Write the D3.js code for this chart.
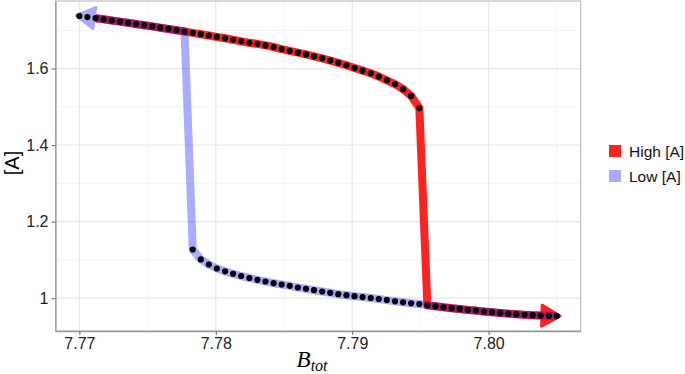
<!DOCTYPE html>
<html>
<head>
<meta charset="utf-8">
<script src="https://cdn.jsdelivr.net/npm/d3@7"></script>
<style>
	body { margin: 0; background: #fff; }
	text { font-family: "Liberation Sans", Arial, sans-serif; }
</style>
</head>
<body>
<svg id="svg"></svg>
<script>
var width = 685, height = 374;
var margin = {top: 1, bottom: 43, right: 104.3, left: 55.5};

// B_tot sweep values
var bTot = [7.77000, 7.77059, 7.77119, 7.77178, 7.77237, 7.77297, 7.77356, 7.77415, 7.77475, 7.77534,
	7.77593, 7.77653, 7.77712, 7.77771, 7.77831, 7.77890, 7.77949, 7.78008, 7.78068, 7.78127,
	7.78186, 7.78246, 7.78305, 7.78364, 7.78424, 7.78483, 7.78542, 7.78602, 7.78661, 7.78720,
	7.78780, 7.78839, 7.78898, 7.78958, 7.79017, 7.79076, 7.79136, 7.79195, 7.79254, 7.79314,
	7.79373, 7.79432, 7.79492, 7.79551, 7.79610, 7.79669, 7.79729, 7.79788, 7.79847, 7.79907,
	7.79966, 7.80025, 7.80085, 7.80144, 7.80203, 7.80263, 7.80322, 7.80381, 7.80441, 7.80500];

// upper steady state, bTot[0] .. bTot[42]
var upperA = [1.7373, 1.7344, 1.7315, 1.7286, 1.7255, 1.7226, 1.7195, 1.7163, 1.7132, 1.7101,
	1.7067, 1.7035, 1.7001, 1.6967, 1.6933, 1.6897, 1.6863, 1.6826, 1.6790, 1.6751,
	1.6711, 1.6672, 1.6646, 1.6604, 1.6562, 1.6510, 1.6463, 1.6416, 1.6369, 1.6319,
	1.6267, 1.6209, 1.6149, 1.6086, 1.6013, 1.5945, 1.5877, 1.5791, 1.5694, 1.5595,
	1.5461, 1.5284, 1.4967];

// lower steady state, bTot[14] .. bTot[59]
var lowerStart = 14;
var lowerA = [1.1273, 1.1012, 1.0881, 1.0776, 1.0701, 1.0638, 1.0580, 1.0528, 1.0481, 1.0437,
	1.0392, 1.0358, 1.0324, 1.0280, 1.0246, 1.0209, 1.0175, 1.0141, 1.0105, 1.0078,
	1.0052, 1.0029, 1.0005, 0.9979, 0.9950, 0.9919, 0.9893, 0.9867, 0.9848, 0.9814,
	0.9788, 0.9762, 0.9739, 0.9720, 0.9694, 0.9676, 0.9652, 0.9634, 0.9616, 0.9597,
	0.9582, 0.9566, 0.9556, 0.9548, 0.9540, 0.9535];

var xTicks = [7.77, 7.78, 7.79, 7.80];
var xTickLabels = ["7.77", "7.78", "7.79", "7.80"];
var yTicks = [1.0, 1.2, 1.4, 1.6];
var yTickLabels = ["1", "1.2", "1.4", "1.6"];
var seriesNames = ["High [A]", "Low [A]"];
var seriesColors = ["#ff2222", "rgba(0, 0, 255, 0.33)"];
var legendColors = ["#ff2222", "#aaaaff"];

var svg = d3.select("#svg")
	.attr("width", width)
	.attr("height", height);

var upper = upperA.map(function(a, i) { return {b: bTot[i], a: a}; });
var lower = lowerA.map(function(a, i) { return {b: bTot[i + lowerStart], a: a}; });

// sweep up from the high branch, then fall to the low one
var highPath = upper.concat(lower.filter(function(d) { return d.b > upper[upper.length - 1].b; }));
// sweep down from the low branch, then jump to the high one
var lowPath = lower.slice().reverse().concat(upper.filter(function(d) { return d.b < lower[0].b; }).reverse());
var allPoints = upper.concat(lower);

var xExt = d3.extent(bTot);
var yExt = d3.extent(allPoints, function(d) { return d.a; });
var xPad = (xExt[1] - xExt[0]) * 0.05, yPad = (yExt[1] - yExt[0]) * 0.05;

var x = d3.scaleLinear()
	.domain([xExt[0] - xPad, xExt[1] + xPad])
	.range([margin.left, width - margin.right]);

var y = d3.scaleLinear()
	.domain([yExt[0] - yPad, yExt[1] + yPad])
	.range([height - margin.bottom, margin.top]);

var x0 = x.range()[0], x1 = x.range()[1], y0 = y.range()[0], y1 = y.range()[1];

// grid
var xMinor = [7.775, 7.785, 7.795, 7.805];
var yMinor = [1.1, 1.3, 1.5, 1.7];

var grid = svg.append("g");
grid.selectAll(".minx").data(xMinor).enter().append("line")
	.attr("x1", function(d) { return x(d); }).attr("x2", function(d) { return x(d); })
	.attr("y1", y0).attr("y2", y1)
	.attr("stroke", "#f2f2f2").attr("stroke-width", 0.8);
grid.selectAll(".miny").data(yMinor).enter().append("line")
	.attr("y1", function(d) { return y(d); }).attr("y2", function(d) { return y(d); })
	.attr("x1", x0).attr("x2", x1)
	.attr("stroke", "#f2f2f2").attr("stroke-width", 0.8);
grid.selectAll(".majx").data(xTicks).enter().append("line")
	.attr("x1", function(d) { return x(d); }).attr("x2", function(d) { return x(d); })
	.attr("y1", y0).attr("y2", y1)
	.attr("stroke", "#e8e8e8").attr("stroke-width", 1.2);
grid.selectAll(".majy").data(yTicks).enter().append("line")
	.attr("y1", function(d) { return y(d); }).attr("y2", function(d) { return y(d); })
	.attr("x1", x0).attr("x2", x1)
	.attr("stroke", "#e8e8e8").attr("stroke-width", 1.2);

svg.append("rect")
	.attr("x", x0).attr("y", y1)
	.attr("width", x1 - x0).attr("height", y0 - y1)
	.attr("fill", "none")
	.attr("stroke", "#b3b3b3");

// paths
var line = d3.line()
	.x(function(d) { return x(d.b); })
	.y(function(d) { return y(d.a); });

function arrowHead(path) {
	var p = path[path.length - 1], q = path[path.length - 2];
	var px = x(p.b), py = y(p.a), qx = x(q.b), qy = y(q.a);
	var len = Math.sqrt((px - qx) * (px - qx) + (py - qy) * (py - qy));
	var ux = (px - qx) / len, uy = (py - qy) / len;
	var tx = px + ux * 3, ty = py + uy * 3;
	var bx = tx - ux * 18, by = ty - uy * 18;
	return [[tx, ty], [bx - uy * 10.5, by + ux * 10.5], [bx + uy * 10.5, by - ux * 10.5]];
}

[highPath, lowPath].forEach(function(path, i) {
	var g = svg.append("g");
	g.append("path")
		.datum(path)
		.attr("d", line)
		.attr("fill", "none")
		.attr("stroke", seriesColors[i])
		.attr("stroke-width", 8)
		.attr("stroke-linejoin", "round");
	g.append("polygon")
		.attr("points", arrowHead(path).map(function(p) { return p.join(","); }).join(" "))
		.attr("fill", i == 0 ? "#ff2222" : "#aaaaff")
		.attr("stroke", i == 0 ? "#ff2222" : "#aaaaff")
		.attr("stroke-width", 3)
		.attr("stroke-linejoin", "round");
});

svg.append("g")
	.selectAll("circle")
	.data(allPoints)
	.enter()
	.append("circle")
	.attr("cx", function(d) { return x(d.b); })
	.attr("cy", function(d) { return y(d.a); })
	.attr("r", 3.1)
	.attr("fill", "#000");

// axes
var xAxis = d3.axisBottom(x)
	.tickValues(xTicks)
	.tickFormat(function(d, i) { return xTickLabels[i]; })
	.tickSize(4)
	.tickSizeOuter(0)
	.tickPadding(3);

var yAxis = d3.axisLeft(y)
	.tickValues(yTicks)
	.tickFormat(function(d, i) { return yTickLabels[i]; })
	.tickSize(4)
	.tickSizeOuter(0)
	.tickPadding(3);

var gx = svg.append("g")
	.attr("transform", "translate(0," + y0 + ")")
	.call(xAxis);
var gy = svg.append("g")
	.attr("transform", "translate(" + x0 + ",0)")
	.call(yAxis);

[gx, gy].forEach(function(g) {
	g.select(".domain").attr("stroke", "#999").attr("stroke-width", 1.3);
	g.selectAll(".tick line").attr("stroke", "#666");
	g.selectAll(".tick text")
		.attr("fill", "#222")
		.style("font-size", "16px")
		.style("font-family", "'Liberation Sans', Arial, sans-serif");
});

// axis titles
svg.append("text")
	.attr("transform", "translate(19," + ((y0 + y1) / 2 - 3) + ") rotate(-90)")
	.attr("text-anchor", "middle")
	.style("font-size", "20px")
	.attr("fill", "#000")
	.text("[A]");

var xt = svg.append("text")
	.attr("x", (x0 + x1) / 2 - 6)
	.attr("y", 367)
	.attr("text-anchor", "middle")
	.style("font-family", "'Liberation Serif', 'Times New Roman', serif")
	.style("font-style", "italic")
	.attr("fill", "#000");
xt.append("tspan").style("font-size", "23px").text("B");
xt.append("tspan").attr("dy", 4).style("font-size", "16px").text("tot");

// legend
var legend = svg.append("g")
	.selectAll("g")
	.data(seriesNames)
	.enter()
	.append("g")
	.attr("transform", function(d, i) { return "translate(609," + (145 + i * 25) + ")"; });

legend.append("rect")
	.attr("width", 12)
	.attr("height", 12)
	.attr("fill", function(d, i) { return legendColors[i]; });

legend.append("text")
	.attr("x", 20)
	.attr("y", 6)
	.attr("dy", "0.36em")
	.style("font-size", "15.5px")
	.attr("fill", "#111")
	.text(function(d) { return d; });
</script>
</body>
</html>
